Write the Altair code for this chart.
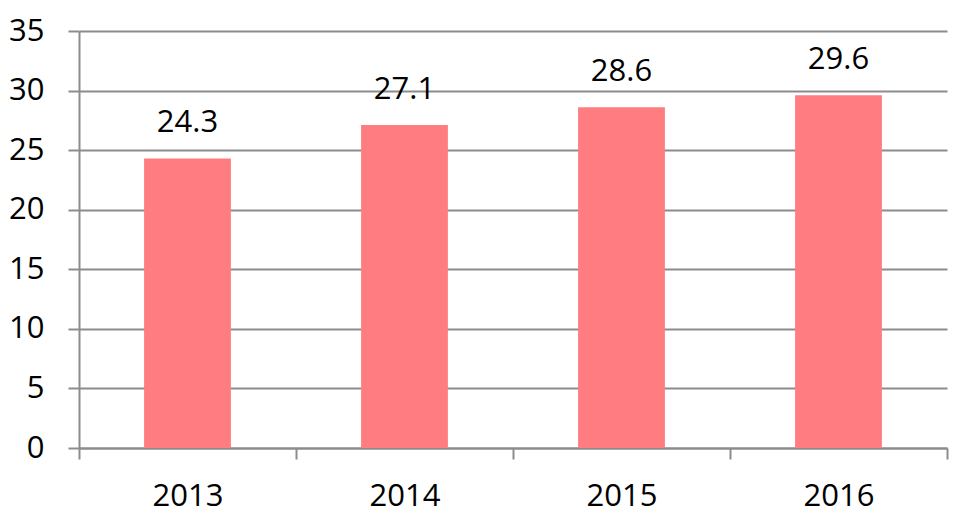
import altair as alt
import pandas as pd

years = ["2013", "2014", "2015", "2016"]
values = [24.3, 27.1, 28.6, 29.6]
labels = ["24.3", "27.1", "28.6", "29.6"]

df = pd.DataFrame({"year": years, "value": values, "label": labels})

FONT = "Open Sans"
GRID = "#8c8c8c"

x = alt.X("year:N", sort=years, title=None,
          scale=alt.Scale(paddingInner=0, paddingOuter=0),
          axis=alt.Axis(labelAngle=0, labelFontSize=31, labelFont=FONT, labelColor="#000",
                        tickBand="extent", tickSize=11, tickColor=GRID, tickWidth=2,
                        domainColor=GRID, domainWidth=2, labelPadding=22, grid=False))
y = alt.Y("value:Q", title=None,
          scale=alt.Scale(domain=[0, 35], nice=False),
          axis=alt.Axis(values=[0, 5, 10, 15, 20, 25, 30, 35], labelFontSize=31, labelFont=FONT,
                        labelColor="#000", tickSize=11, tickColor=GRID, tickWidth=2,
                        domainColor=GRID, domainWidth=2, gridColor=GRID, gridWidth=2,
                        gridOpacity=1, labelPadding=24))

bars = alt.Chart(df).mark_bar(color="#FF7C80", width={"band": 0.4}).encode(x=x, y=y)
text = alt.Chart(df).mark_text(baseline="bottom", dy=-19, fontSize=31, font=FONT, color="#000").encode(
    x=alt.X("year:N", sort=years), y="value:Q", text="label:N")

chart = (bars + text).properties(
    width=868, height=417,
    autosize=alt.AutoSizeParams(type="none"),
    padding={"left": 71, "top": 23, "right": 2, "bottom": 78},
).configure_view(stroke=None)

chart.save("out.html", embed_options={"renderer": "svg", "actions": False})
